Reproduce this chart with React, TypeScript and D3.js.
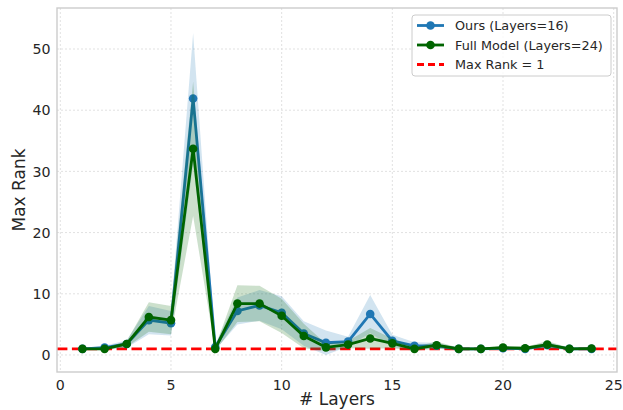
import React from "react";
import * as d3 from "d3";

const layers = [1,2,3,4,5,6,7,8,9,10,11,12,13,14,15,16,17,18,19,20,21,22,23,24];
const oursMean = [1.0,1.2,1.8,5.7,5.2,41.9,1.3,7.2,8.1,6.9,3.5,2.0,2.2,6.7,2.3,1.5,1.5,1.0,1.0,1.1,1.0,1.6,1.0,1.0];
const oursStd  = [0.1,0.3,0.6,2.3,2.0,10.7,0.5,2.2,2.5,2.7,2.0,2.0,0.8,3.1,1.0,0.6,0.5,0.2,0.2,0.3,0.2,0.5,0.2,0.2];
const fullMean = [1.0,1.0,1.8,6.2,5.7,33.7,1.0,8.4,8.4,6.4,3.1,1.25,1.7,2.7,1.9,1.0,1.6,1.0,1.0,1.2,1.1,1.7,1.0,1.05];
const fullStd  = [0.1,0.2,0.5,2.4,2.3,11.0,0.3,3.0,2.9,2.8,2.0,0.6,0.6,1.7,0.8,0.3,0.6,0.2,0.2,0.3,0.2,0.6,0.2,0.2];
const xTicks = [0,5,10,15,20,25];
const yTicks = [0,10,20,30,40,50];
const refLine = 1;
const seriesNames = ["Ours (Layers=16)", "Full Model (Layers=24)", "Max Rank = 1"];

const W = 623, H = 410;
const L = 57, R = 617, T = 8, B = 372;
const FONT = "DejaVu Sans, sans-serif";
const TXT = "#262626";

export default function App() {
  const x = d3.scaleLinear().domain([-0.15, 25.15]).range([L, R]);
  const y = d3.scaleLinear().domain([-2.78, 56.7]).range([B, T]);

  const mk = (mean: number[], std: number[]) => {
    const pts = layers.map((l, i) => ({ l, m: mean[i], s: std[i] }));
    const area = d3.area<any>().x(d => x(d.l)).y0(d => y(d.m - d.s)).y1(d => y(d.m + d.s))(pts) || "";
    const line = d3.line<any>().x(d => x(d.l)).y(d => y(d.m))(pts) || "";
    return { pts, area, line };
  };
  const ours = mk(oursMean, oursStd);
  const full = mk(fullMean, fullStd);
  const blue = "#1f77b4", green = "#006400", red = "#ff0000";

  const lgX = 412, lgY = 15;
  const rowY = [25.5, 45, 64.5];

  return (
    <svg width={W} height={H} style={{ position: "absolute", left: 0, top: 0 }} fontFamily={FONT}>
      <rect x={0} y={0} width={W} height={H} fill="white" />
      <defs>
        <clipPath id="clip"><rect x={L} y={T} width={R - L} height={B - T} /></clipPath>
      </defs>
      {xTicks.map(t => (
        <line key={"gx" + t} x1={x(t)} x2={x(t)} y1={T} y2={B} stroke="#dedede" strokeWidth={0.9} strokeDasharray="2,2" />
      ))}
      {yTicks.map(t => (
        <line key={"gy" + t} x1={L} x2={R} y1={y(t)} y2={y(t)} stroke="#dedede" strokeWidth={0.9} strokeDasharray="2,2" />
      ))}
      <g clipPath="url(#clip)">
        <line x1={L} x2={R} y1={y(refLine)} y2={y(refLine)} stroke={red} strokeWidth={2.8} strokeDasharray="10.4,4.5" />
        <path d={ours.area} fill={blue} fillOpacity={0.2} />
        <path d={ours.line} fill="none" stroke={blue} strokeWidth={2.8} />
        {ours.pts.map(p => <circle key={"o" + p.l} cx={x(p.l)} cy={y(p.m)} r={4.3} fill={blue} />)}
        <path d={full.area} fill={green} fillOpacity={0.2} />
        <path d={full.line} fill="none" stroke={green} strokeWidth={2.8} />
        {full.pts.map(p => <circle key={"f" + p.l} cx={x(p.l)} cy={y(p.m)} r={4.3} fill={green} />)}
      </g>
      <rect x={L} y={T} width={R - L} height={B - T} fill="none" stroke="#cccccc" strokeWidth={1.4} />
      {xTicks.map(t => (
        <text key={"tx" + t} x={x(t)} y={390} textAnchor="middle" fontSize={14.2} fill={TXT}>{t}</text>
      ))}
      {yTicks.map(t => (
        <text key={"ty" + t} x={50.5} y={y(t)} dy="0.36em" textAnchor="end" fontSize={14.2} fill={TXT}>{t}</text>
      ))}
      <text x={(L + R) / 2} y={405} textAnchor="middle" fontSize={17} fill={TXT}># Layers</text>
      <text transform={`translate(25,${(T + B) / 2}) rotate(-90)`} textAnchor="middle" fontSize={17} fill={TXT}>Max Rank</text>
      <rect x={lgX} y={lgY} width={199} height={61} rx={3} fill="white" fillOpacity={0.8} stroke="#cccccc" strokeWidth={1} />
      <line x1={417} x2={444} y1={rowY[0]} y2={rowY[0]} stroke={blue} strokeWidth={2.8} />
      <circle cx={430.5} cy={rowY[0]} r={4.3} fill={blue} />
      <line x1={417} x2={444} y1={rowY[1]} y2={rowY[1]} stroke={green} strokeWidth={2.8} />
      <circle cx={430.5} cy={rowY[1]} r={4.3} fill={green} />
      <line x1={417} x2={444} y1={rowY[2]} y2={rowY[2]} stroke={red} strokeWidth={2.8} strokeDasharray="7,4" />
      {seriesNames.map((n, i) => (
        <text key={n} x={455} y={rowY[i]} dy="0.36em" fontSize={12.8} fill={TXT}>{n}</text>
      ))}
    </svg>
  );
}
